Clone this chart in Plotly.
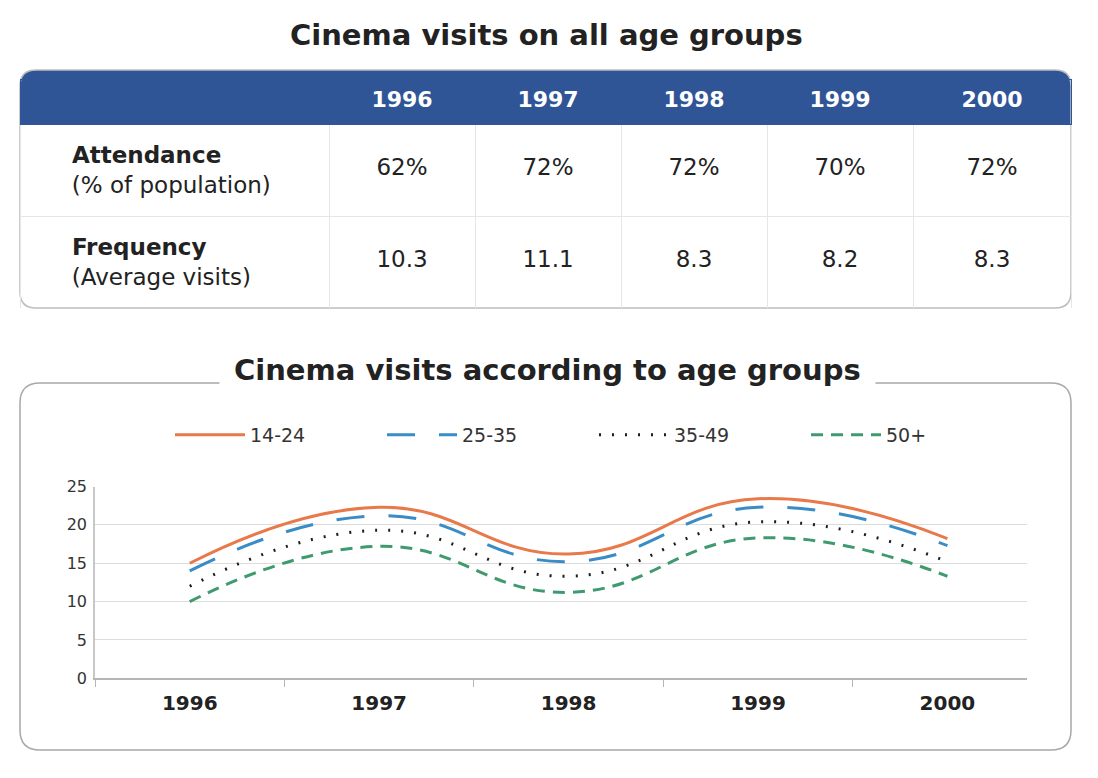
import plotly.graph_objects as go

W, H = 1098, 778
FONT = "DejaVu Sans"

# ---------------- data ----------------
years = ["1996", "1997", "1998", "1999", "2000"]
attendance = ["62%", "72%", "72%", "70%", "72%"]
frequency = ["10.3", "11.1", "8.3", "8.2", "8.3"]
row_labels = ["Attendance", "Frequency"]
row_units = ["(% of population)", "(Average visits)"]

age_groups = ["14-24", "25-35", "35-49", "50+"]
visits_14_24 = [15.0, 22.3, 16.2, 23.4, 18.2]
visits_25_35 = [14.0, 21.2, 15.2, 22.3, 17.3]
visits_35_49 = [12.0, 19.3, 13.3, 20.4, 15.2]
visits_50p = [10.0, 17.2, 11.2, 18.3, 13.3]

y_ticks = [0, 5, 10, 15, 20, 25]

# ---------------- helpers ----------------
def px(x):
    return x / W

def py(y):
    return 1 - y / H

def rounded_rect(x0, y0, x1, y1, r, top_only=False):
    rx, ry = r / W, r / H
    X0, X1 = px(x0), px(x1)
    Y0, Y1 = py(y0), py(y1)  # Y0 top, Y1 bottom (paper)
    if top_only:
        return (f"M {X0} {Y1} L {X0} {Y0 - ry} Q {X0} {Y0} {X0 + rx} {Y0} "
                f"L {X1 - rx} {Y0} Q {X1} {Y0} {X1} {Y0 - ry} L {X1} {Y1} Z")
    return (f"M {X0 + rx} {Y0} L {X1 - rx} {Y0} Q {X1} {Y0} {X1} {Y0 - ry} "
            f"L {X1} {Y1 + ry} Q {X1} {Y1} {X1 - rx} {Y1} L {X0 + rx} {Y1} "
            f"Q {X0} {Y1} {X0} {Y1 + ry} L {X0} {Y0 - ry} Q {X0} {Y0} {X0 + rx} {Y0} Z")

def spacer(color, size=None):
    # invisible leading line used only to push cell text down
    sz = f"font-size:{size}px;" if size else ""
    return f"<span style='{sz}color:{color}'>.</span><br>"

def big(txt, size=23):
    return f"<span style='font-size:{size}px'>{txt}</span>"

fig = go.Figure()

# ---------------- table ----------------
pad = "\u00a0" * 6
label_col = [spacer("white", 17.5) + big(f"{pad}<b>{l}</b>") + "<br><br>" + big(f"{pad}{u}")
             for l, u in zip(row_labels, row_units)]
value_cols = [[spacer("white", 14.5) + a, spacer("white", 14.5) + f]
              for a, f in zip(attendance, frequency)]
header_vals = [""] + [f"<b>{y}</b>" for y in years]

fig.add_trace(go.Table(
    domain=dict(x=[px(20), px(1071)], y=[py(308), py(79)]),
    columnwidth=[309, 146, 146, 146, 146, 158],
    header=dict(
        values=header_vals,
        fill_color="rgba(0,0,0,0)",
        line=dict(color="#2f5597", width=1),
        height=45,
        align="center",
        font=dict(color="white", size=22, family=FONT),
    ),
    cells=dict(
        values=[label_col] + value_cols,
        fill_color="rgba(0,0,0,0)",
        line=dict(color="#e6e6e6", width=1),
        height=92,
        align=["left"] + ["center"] * 5,
        font=dict(color="#222222", size=[11.5, 23, 23, 23, 23, 23], family=FONT),
    ),
))

# ---------------- line chart ----------------
styles = [
    (visits_14_24, "#e8794b", "solid", 3),
    (visits_25_35, "#3a8cc6", "28px,24px", 3),
    (visits_35_49, "#1e1e1e", "2px,11px", 3),
    (visits_50p, "#3f9a70", "12px,8px", 3),
]
for name, (vals, col, dash, wd) in zip(age_groups, styles):
    fig.add_trace(go.Scatter(
        x=years, y=vals, name=name, mode="lines",
        line=dict(color=col, dash=dash, width=wd, shape="spline", smoothing=1.3),
        xaxis="x", yaxis="y",
    ))

fig.update_layout(
    width=W, height=H, autosize=False,
    margin=dict(l=0, r=0, t=0, b=0, pad=0),
    paper_bgcolor="white", plot_bgcolor="white",
    font=dict(family=FONT, color="#222222"),
    xaxis=dict(
        domain=[px(95), px(1027)],
        type="category",
        range=[-0.5, 4.42],
        automargin=False,
        showline=True, linecolor="#b5b5b5", linewidth=1.5,
        ticks="outside", tickson="boundaries", ticklen=7, tickcolor="#b5b5b5",
        showgrid=False,
        tickfont=dict(size=20, family=FONT, color="#222222", weight="bold"),
        ticklabelstandoff=6,
        anchor="y",
    ),
    yaxis=dict(
        domain=[py(678.3), py(486.5)],
        range=[0, 25],
        automargin=False,
        tickvals=y_ticks,
        showline=True, linecolor="#c8c8c8", linewidth=1.5,
        showgrid=True, gridcolor="#dcdcdc", gridwidth=1,
        zeroline=False,
        tickfont=dict(size=16, family=FONT, color="#333333"),
        ticklabelstandoff=3,
        anchor="x",
    ),
    legend=dict(
        orientation="h",
        x=px(170), y=py(435), xanchor="left", yanchor="middle",
        entrywidth=127, entrywidthmode="pixels",
        itemwidth=70,
        font=dict(size=19, family=FONT, color="#333333"),
        bgcolor="rgba(0,0,0,0)",
    ),
    shapes=[
        dict(type="path", path=rounded_rect(20, 70, 1071, 124, 16, top_only=True),
             xref="paper", yref="paper", fillcolor="#2f5597",
             line=dict(width=0), layer="below"),
        dict(type="path", path=rounded_rect(20, 70, 1071, 308, 16),
             xref="paper", yref="paper", line=dict(color="#bdbdbd", width=1.5),
             layer="below"),
        dict(type="path", path=rounded_rect(20, 383, 1071, 750, 20),
             xref="paper", yref="paper", line=dict(color="#a8a8a8", width=1.5),
             layer="below"),
    ],
    annotations=[
        dict(text="<b>Cinema visits on all age groups</b>", x=px(546), y=py(35),
             xref="paper", yref="paper", showarrow=False,
             xanchor="center", yanchor="middle",
             font=dict(size=29, family=FONT, color="#222222")),
        dict(text="<b>Cinema visits according to age groups</b>", x=px(547), y=py(370),
             xref="paper", yref="paper", showarrow=False, bgcolor="white",
             xanchor="center", yanchor="middle", borderpad=14,
             font=dict(size=29, family=FONT, color="#222222")),
    ],
)

fig.write_html("out.html")
